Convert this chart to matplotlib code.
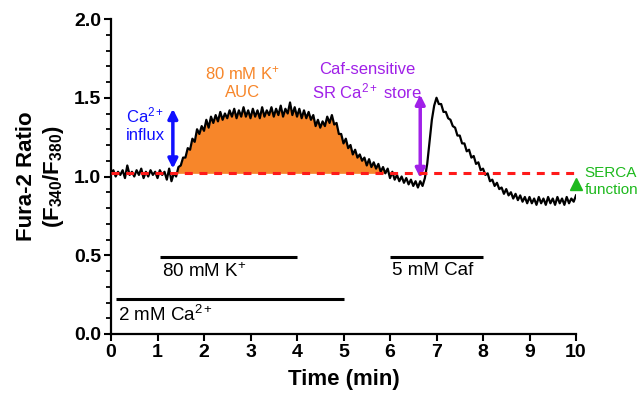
import numpy as np
import matplotlib
matplotlib.use("Agg")
from matplotlib import pyplot as plt
from matplotlib.ticker import MultipleLocator

plt.rcParams['font.family'] = ['Liberation Sans', 'DejaVu Sans']
plt.rcParams['mathtext.fontset'] = 'custom'
plt.rcParams['mathtext.rm'] = 'Liberation Sans'
plt.rcParams['mathtext.it'] = 'Liberation Sans:italic'
plt.rcParams['mathtext.bf'] = 'Liberation Sans:bold'

# fura-2 ratio trace, one reading every 0.05 min from 0 to 10 min
dt = 0.05
ratio = [
    1.02, 1.04, 1.00, 1.03, 1.01, 1.04, 0.99, 1.07, 1.01, 1.03,
    1.00, 1.04, 1.01, 1.05, 0.99, 1.03, 1.00, 1.04, 1.01, 1.03,
    0.99, 1.04, 1.01, 1.03, 0.98, 1.05, 0.97, 1.02, 1.00, 1.06,
    1.07, 1.12, 1.12, 1.18, 1.17, 1.24, 1.22, 1.30, 1.27, 1.32,
    1.29, 1.36, 1.31, 1.38, 1.34, 1.39, 1.35, 1.41, 1.36, 1.40,
    1.37, 1.42, 1.38, 1.43, 1.37, 1.42, 1.38, 1.44, 1.38, 1.42,
    1.37, 1.43, 1.38, 1.42, 1.37, 1.44, 1.38, 1.42, 1.39, 1.44,
    1.38, 1.43, 1.39, 1.45, 1.38, 1.43, 1.40, 1.47, 1.39, 1.44,
    1.38, 1.43, 1.37, 1.42, 1.37, 1.41, 1.36, 1.39, 1.32, 1.36,
    1.31, 1.35, 1.32, 1.38, 1.34, 1.39, 1.33, 1.34, 1.27, 1.27,
    1.21, 1.24, 1.18, 1.20, 1.14, 1.17, 1.12, 1.14, 1.10, 1.12,
    1.07, 1.11, 1.06, 1.09, 1.05, 1.08, 1.03, 1.06, 1.02, 1.05,
    0.99, 1.03, 0.98, 1.01, 0.97, 1.00, 0.96, 0.99, 0.95, 0.98,
    0.94, 0.97, 0.93, 0.97, 0.94, 0.99, 1.08, 1.22, 1.36, 1.45,
    1.50, 1.46, 1.46, 1.41, 1.41, 1.37, 1.36, 1.32, 1.31, 1.26,
    1.26, 1.21, 1.21, 1.16, 1.17, 1.12, 1.13, 1.08, 1.09, 1.04,
    1.05, 1.01, 1.02, 0.97, 0.98, 0.94, 0.96, 0.92, 0.93, 0.89,
    0.92, 0.88, 0.90, 0.86, 0.89, 0.85, 0.88, 0.84, 0.87, 0.83,
    0.87, 0.83, 0.86, 0.82, 0.87, 0.83, 0.86, 0.82, 0.87, 0.83,
    0.86, 0.82, 0.87, 0.83, 0.86, 0.82, 0.87, 0.83, 0.86, 0.84,
    0.88,
]
baseline = 1.02
auc_window = [1.4, 5.9]

# drug application bars: start, end, level, label
bar_starts = [1.05, 0.1, 6.0]
bar_ends = [4.0, 5.0, 8.0]
bar_levels = [0.49, 0.22, 0.49]
bar_labels = ['80 mM K$^{+}$', '2 mM Ca$^{2+}$', '5 mM Caf']

influx_arrow = [1.33, 1.05, 1.43]   # x, bottom, top
store_arrow = [6.65, 0.99, 1.52]
serca_mark = [10.0, 0.955]

t = np.arange(len(ratio)) * dt
y = np.array(ratio)

fig = plt.figure(figsize=(6.41, 4.0), dpi=100)
ax = fig.add_axes([0.1732, 0.165, 0.7254, 0.7875])

orange = '#F7862A'
inwin = (t >= auc_window[0]) & (t <= auc_window[1])
ax.fill_between(t, y, baseline, where=inwin & (y > baseline), color=orange,
                interpolate=True, lw=0, zorder=1)
ax.plot(t, y, color='black', lw=1.6, zorder=3)
ax.plot([0, 10], [baseline, baseline], color='#FF1A1A', lw=2.2,
        linestyle=(0, (2.6, 2.2)), zorder=4, clip_on=False)

for s, e, lv, lab in zip(bar_starts, bar_ends, bar_levels, bar_labels):
    ax.plot([s, e], [lv, lv], color='black', lw=2.2, solid_capstyle='butt')
    ax.text(s + 0.04, lv - 0.035, lab, fontsize=13.5, va='top', ha='left')

# annotations
ax.annotate('', xy=(influx_arrow[0], influx_arrow[1]),
            xytext=(influx_arrow[0], influx_arrow[2]),
            arrowprops=dict(arrowstyle='<|-|>', color='#1010FF', lw=2.5,
                            mutation_scale=14, shrinkA=0, shrinkB=0))
ax.text(0.74, 1.33, 'Ca$^{2+}$\ninflux', color='#1010FF', fontsize=12,
        ha='center', va='center', linespacing=1.25)

ax.text(2.82, 1.60, '80 mM K$^{+}$\nAUC', color=orange, fontsize=12,
        ha='center', va='center', linespacing=1.25)

purple = '#A020E8'
ax.annotate('', xy=(store_arrow[0], store_arrow[1]),
            xytext=(store_arrow[0], store_arrow[2]),
            arrowprops=dict(arrowstyle='<|-|>', color=purple, lw=2.5,
                            mutation_scale=14, shrinkA=0, shrinkB=0))
ax.text(5.5, 1.6, 'Caf-sensitive\nSR Ca$^{2+}$ store', color=purple,
        fontsize=12, ha='center', va='center', linespacing=1.25)

green = '#1DB91D'
ax.plot(serca_mark[0], serca_mark[1], marker='^', color=green, ms=9,
        clip_on=False, zorder=5)
ax.text(10.19, 0.97, 'SERCA\nfunction', color=green, fontsize=11,
        ha='left', va='center', linespacing=1.3)

ax.set_xlim(0, 10)
ax.set_ylim(0, 2.0)
ax.xaxis.set_major_locator(MultipleLocator(1))
ax.yaxis.set_major_locator(MultipleLocator(0.5))
ax.yaxis.set_minor_locator(MultipleLocator(0.1))
ax.set_yticklabels([f'{v:.1f}' for v in ax.get_yticks()])
for sp in ['top', 'right']:
    ax.spines[sp].set_visible(False)
for sp in ['left', 'bottom']:
    ax.spines[sp].set_linewidth(1.6)
ax.tick_params(which='major', length=5, width=1.5, labelsize=14, pad=2)
ax.tick_params(which='minor', length=3.5, width=1.3)
for lab in ax.get_xticklabels() + ax.get_yticklabels():
    lab.set_fontweight('bold')

ax.set_xlabel('Time (min)', fontsize=16, fontweight='bold', labelpad=6)
ax.set_ylabel('Fura-2 Ratio\n(F$_\\mathbf{340}$/F$_\\mathbf{380}$)', fontsize=16,
              fontweight='bold', labelpad=6)

fig.savefig('out.png', dpi=100)
